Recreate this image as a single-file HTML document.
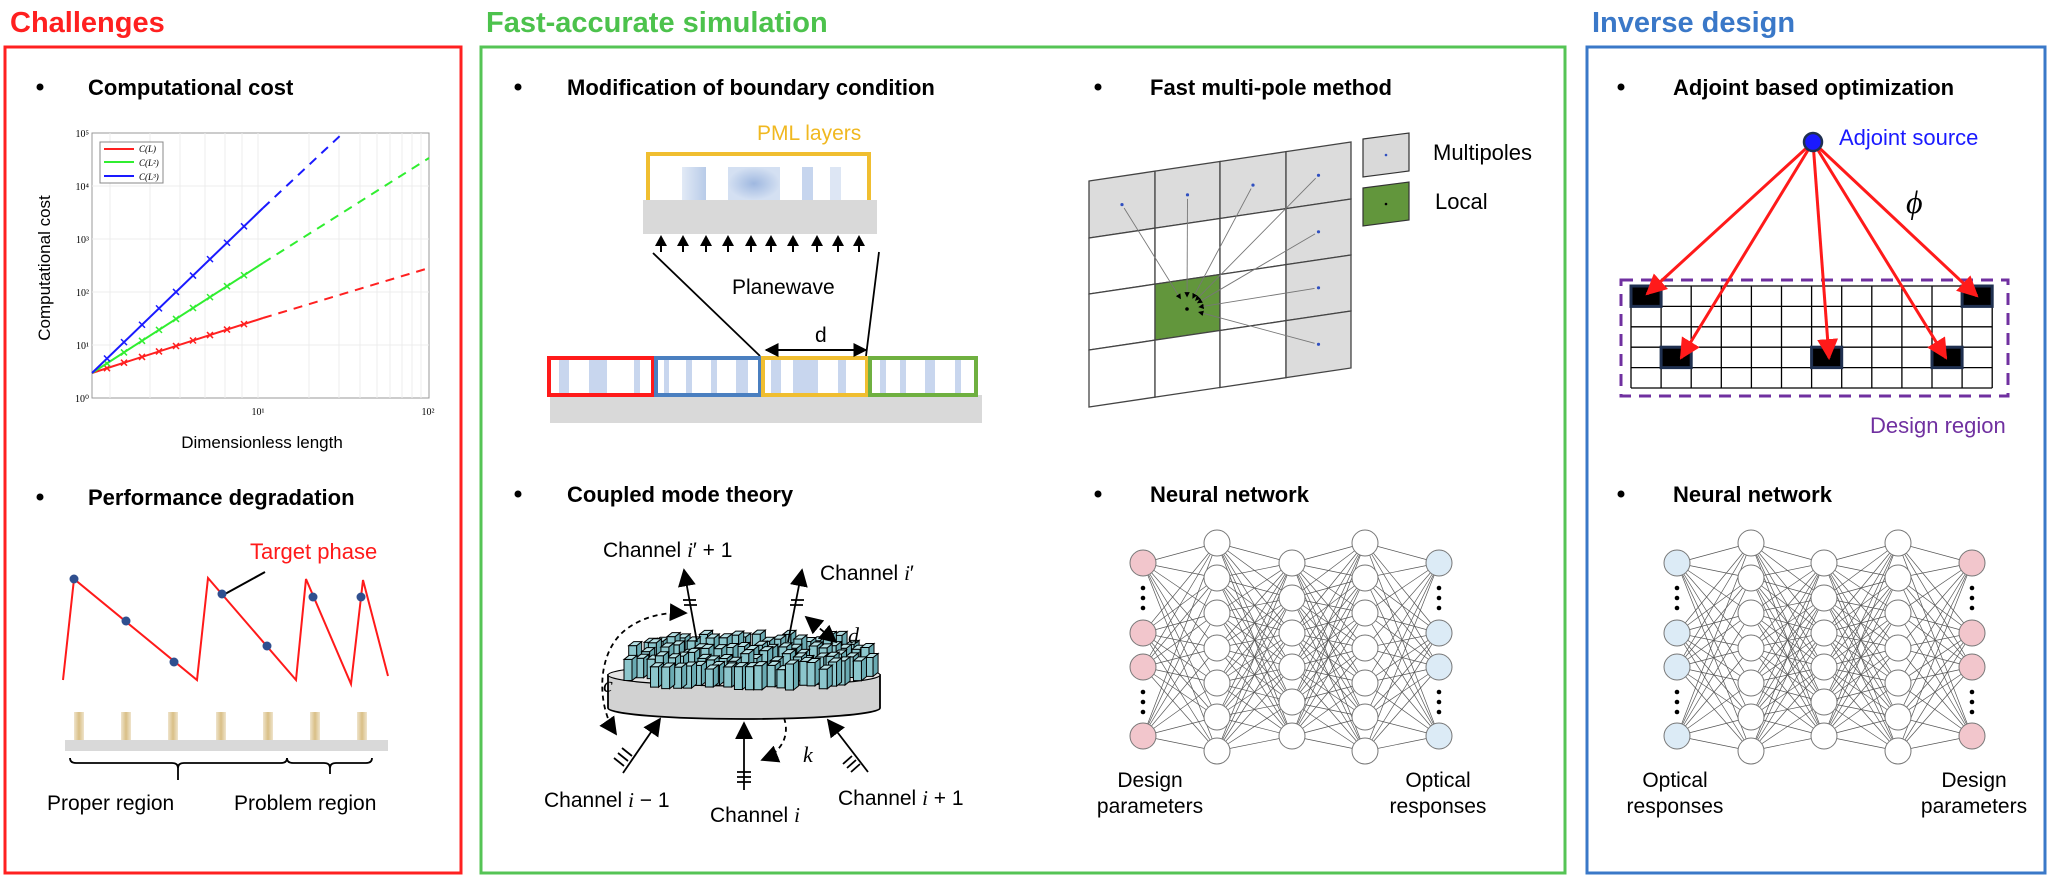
<!DOCTYPE html>
<html><head><meta charset="utf-8">
<style>
html,body{margin:0;padding:0;background:#fff;}
svg{display:block;font-family:"Liberation Sans",sans-serif;}
.b{font-weight:bold;font-size:22px;fill:#000;}
.t{font-size:21px;fill:#000;}
</style></head>
<body>
<svg id="s" width="2050" height="880" viewBox="0 0 2050 880" xmlns="http://www.w3.org/2000/svg">
<defs>
<linearGradient id="tan" x1="0" x2="1"><stop offset="0" stop-color="#efe4cc"/><stop offset="0.5" stop-color="#d9bf86"/><stop offset="1" stop-color="#efe4cc"/></linearGradient>
<radialGradient id="bl"><stop offset="0" stop-color="#9fb8e0"/><stop offset="1" stop-color="#d4e0f2"/></radialGradient>
<linearGradient id="bl2" x1="0" x2="1"><stop offset="0" stop-color="#e2eaf6"/><stop offset="1" stop-color="#b8cbe8"/></linearGradient>
<marker id="ra" viewBox="0 0 10 10" refX="9" refY="5" markerWidth="7" markerHeight="7" orient="auto-start-reverse" markerUnits="strokeWidth"><path d="M0,0L10,5L0,10z" fill="#ff1a1a"/></marker>
<marker id="ka" viewBox="0 0 10 10" refX="9" refY="5" markerWidth="10" markerHeight="10" orient="auto-start-reverse" markerUnits="strokeWidth"><path d="M0,0L10,5L0,10z" fill="#000"/></marker>
<marker id="kb" viewBox="0 0 10 10" refX="9" refY="5" markerWidth="7" markerHeight="7" orient="auto-start-reverse" markerUnits="strokeWidth"><path d="M0,0L10,5L0,10z" fill="#000"/></marker>
<marker id="ks" viewBox="0 0 10 10" refX="9" refY="5" markerWidth="6" markerHeight="6" orient="auto" markerUnits="strokeWidth"><path d="M0,0L10,5L0,10z" fill="#000"/></marker>
</defs>

<text x="10" y="32" font-size="29" font-weight="bold" fill="#ff2020">Challenges</text>
<text x="486" y="32" font-size="29" font-weight="bold" fill="#4cc24c">Fast-accurate simulation</text>
<text x="1592" y="32" font-size="29" font-weight="bold" fill="#3a78c8">Inverse design</text>

<rect x="5" y="47" width="456" height="826" fill="none" stroke="#ff2020" stroke-width="3"/>
<rect x="481" y="47" width="1084" height="826" fill="none" stroke="#55c455" stroke-width="3"/>
<rect x="1587" y="47" width="458" height="826" fill="none" stroke="#3a78c8" stroke-width="3"/>

<g class="b">
<circle cx="40" cy="87" r="3.5"/><text x="88" y="95">Computational cost</text>
<circle cx="40" cy="497" r="3.5"/><text x="88" y="505">Performance degradation</text>
<circle cx="518" cy="87" r="3.5"/><text x="567" y="95">Modification of boundary condition</text>
<circle cx="1098" cy="87" r="3.5"/><text x="1150" y="95">Fast multi-pole method</text>
<circle cx="518" cy="494" r="3.5"/><text x="567" y="502">Coupled mode theory</text>
<circle cx="1098" cy="494" r="3.5"/><text x="1150" y="502">Neural network</text>
<circle cx="1621" cy="87" r="3.5"/><text x="1673" y="95">Adjoint based optimization</text>
<circle cx="1621" cy="494" r="3.5"/><text x="1673" y="502">Neural network</text>
</g>

<g id="plot">
<rect x="92" y="133" width="337" height="265" fill="#fff" stroke="#999" stroke-width="1"/>
<g id="pgrid" stroke="#ececec" stroke-width="1"></g>
<line x1="92" y1="373" x2="263" y2="318" stroke="#ff2020" stroke-width="2"/>
<line x1="263" y1="318" x2="429" y2="268" stroke="#ff2020" stroke-width="2" stroke-dasharray="9 7"/>
<line x1="92" y1="373" x2="263" y2="263" stroke="#30ee30" stroke-width="2"/>
<line x1="263" y1="263" x2="429" y2="158" stroke="#30ee30" stroke-width="2" stroke-dasharray="9 7"/>
<line x1="92" y1="373" x2="263" y2="208" stroke="#1a1aff" stroke-width="2"/>
<line x1="263" y1="208" x2="343" y2="133" stroke="#1a1aff" stroke-width="2" stroke-dasharray="9 7"/>
<g id="pmark" stroke-width="1.5"></g>
<rect x="100" y="142" width="63" height="41" fill="#fff" stroke="#888"/>
<line x1="104" y1="149" x2="134" y2="149" stroke="#ff2020" stroke-width="2"/>
<line x1="104" y1="162" x2="134" y2="162" stroke="#30ee30" stroke-width="2"/>
<line x1="104" y1="176" x2="134" y2="176" stroke="#1a1aff" stroke-width="2"/>
<g font-family="Liberation Serif,serif" font-style="italic" font-size="9" fill="#000">
<text x="139" y="152">C(L)</text><text x="139" y="166">C(L²)</text><text x="139" y="180">C(L³)</text>
</g>
<g font-family="Liberation Serif,serif" font-size="10" fill="#000" text-anchor="end">
<text x="89" y="402">10⁰</text><text x="89" y="349">10¹</text><text x="89" y="296">10²</text>
<text x="89" y="243">10³</text><text x="89" y="190">10⁴</text><text x="89" y="137">10⁵</text>
</g>
<g font-family="Liberation Serif,serif" font-size="10" fill="#000" text-anchor="middle">
<text x="258" y="415">10¹</text><text x="428" y="415">10²</text>
</g>
<text transform="translate(50,268) rotate(-90)" text-anchor="middle" font-size="17">Computational cost</text>
<text x="262" y="448" text-anchor="middle" font-size="17">Dimensionless length</text>
</g>

<polyline points="63,680 74,579 197,680 208,578 296,680 306,579 351,684 363,580 388,676" fill="none" stroke="#ff1a1a" stroke-width="2"/>
<line x1="225" y1="594" x2="265" y2="572" stroke="#000" stroke-width="2"/>
<g fill="#2f4f8f">
<circle cx="74" cy="579" r="4.5"/><circle cx="126" cy="621" r="4.5"/><circle cx="174" cy="662" r="4.5"/>
<circle cx="222" cy="594" r="4.5"/><circle cx="267" cy="646" r="4.5"/><circle cx="313" cy="597" r="4.5"/><circle cx="361" cy="597" r="4.5"/>
</g>
<text x="250" y="559" font-size="22" fill="#ff1a1a">Target phase</text>
<g fill="url(#tan)">
<rect x="74" y="712" width="10" height="28"/><rect x="121" y="712" width="10" height="28"/><rect x="168" y="712" width="10" height="28"/>
<rect x="216" y="712" width="10" height="28"/><rect x="263" y="712" width="10" height="28"/><rect x="310" y="712" width="10" height="28"/><rect x="357" y="712" width="10" height="28"/>
</g>
<rect x="65" y="740" width="323" height="11" fill="#d9d9d9"/>
<path d="M70,758 Q70,763 76,763 L172,763 Q178,763 178,768 L178,780 M178,768 Q178,763 184,763 L281,763 Q287,763 287,758" fill="none" stroke="#000" stroke-width="1.8"/>
<path d="M287,758 Q287,763 293,763 L324,763 Q330,763 330,768 L330,774 M330,768 Q330,763 336,763 L366,763 Q372,763 372,758" fill="none" stroke="#000" stroke-width="1.8"/>
<text x="47" y="810" class="t">Proper region</text>
<text x="234" y="810" class="t">Problem region</text>

<rect x="682" y="167" width="24" height="33" fill="url(#bl2)"/>
<rect x="728" y="167" width="52" height="33" fill="url(#bl)"/>
<rect x="802" y="167" width="11" height="33" fill="#c6d5ee"/>
<rect x="830" y="167" width="11" height="33" fill="#dde6f4"/>
<path d="M648,200 L648,154 L869,154 L869,200" fill="none" stroke="#f0be30" stroke-width="4"/>
<rect x="643" y="200" width="234" height="34" fill="#d9d9d9"/>
<text x="757" y="140" font-size="21" fill="#f0b820">PML layers</text>
<g id="pw"></g>
<text x="732" y="294" class="t">Planewave</text>
<line x1="653" y1="253" x2="760" y2="356" stroke="#000" stroke-width="1.8"/>
<line x1="879" y1="252" x2="866" y2="356" stroke="#000" stroke-width="1.8"/>
<rect x="550" y="395" width="432" height="28" fill="#d9d9d9"/>
<g id="cells"></g>
<rect x="549" y="358" width="104" height="37" fill="none" stroke="#ff1a1a" stroke-width="4"/>
<rect x="656" y="358" width="104" height="37" fill="none" stroke="#4a7fc0" stroke-width="4"/>
<rect x="763" y="358" width="104" height="37" fill="none" stroke="#f0be30" stroke-width="4"/>
<rect x="870" y="358" width="106" height="37" fill="none" stroke="#6fb040" stroke-width="4"/>
<line x1="766" y1="350" x2="866" y2="350" stroke="#000" stroke-width="2" marker-start="url(#kb)" marker-end="url(#kb)"/>
<text x="815" y="342" class="t">d</text>

<g id="fmm"></g>
<path d="M1363,139 L1409,133 L1409,171 L1363,177 Z" fill="#d9d9d9" stroke="#333" stroke-width="1.2"/>
<circle cx="1386" cy="155" r="1.3" fill="#3050c0"/>
<path d="M1363,188 L1409,182 L1409,220 L1363,226 Z" fill="#62963c" stroke="#333" stroke-width="1.2"/>
<circle cx="1386" cy="204" r="1.3" fill="#000"/>
<text x="1433" y="160" font-size="22">Multipoles</text>
<text x="1435" y="209" font-size="22">Local</text>

<path d="M608,675 L608,708 A136,11 0 0 0 880,708 L880,675 Z" fill="#d2d2d2" stroke="#000" stroke-width="1.8"/>
<ellipse cx="744" cy="675" rx="136" ry="11" fill="#e4e4e4" stroke="#000" stroke-width="1.2"/>
<g id="pill"></g>
<g stroke="#000" stroke-width="1.8" fill="none">
<line x1="623" y1="773" x2="660" y2="719" marker-end="url(#ka)"/>
<line x1="744" y1="790" x2="744" y2="723" marker-end="url(#ka)"/>
<line x1="868" y1="772" x2="828" y2="720" marker-end="url(#ka)"/>
<line x1="697" y1="642" x2="684" y2="570" marker-end="url(#ka)"/>
<line x1="788" y1="642" x2="802" y2="570" marker-end="url(#ka)"/>
<path d="M616,734 C596,705 596,650 628,628 C645,616 665,612 686,613" stroke-dasharray="5 4" marker-start="url(#ka)" marker-end="url(#ka)"/>
<path d="M806,617 L836,642" stroke-dasharray="5 4" marker-start="url(#ka)" marker-end="url(#ka)"/>
<path d="M784,718 C790,735 782,752 762,760" stroke-dasharray="5 4" marker-end="url(#ka)"/>
<path d="M614,758 l10,8 M618,753 l10,8 M622,748 l10,8"/>
<path d="M737,772 h14 M737,777 h14 M737,782 h14"/>
<path d="M852,756 l-9,8 M856,760 l-9,8 M860,764 l-9,8"/>
<path d="M683,600 h13 M684,605 h13"/>
<path d="M791,600 h13 M790,605 h13"/>
</g>
<g font-family="Liberation Serif,serif" font-style="italic" font-size="22">
<text x="603" y="692">c</text><text x="848" y="643">d</text><text x="803" y="762">k</text>
</g>
<g class="t" font-size="22">
<text x="603" y="557">Channel <tspan font-family="Liberation Serif,serif" font-style="italic">i</tspan>′ + 1</text>
<text x="820" y="580">Channel <tspan font-family="Liberation Serif,serif" font-style="italic">i</tspan>′</text>
<text x="544" y="807">Channel <tspan font-family="Liberation Serif,serif" font-style="italic">i</tspan> − 1</text>
<text x="710" y="822">Channel <tspan font-family="Liberation Serif,serif" font-style="italic">i</tspan></text>
<text x="838" y="805">Channel <tspan font-family="Liberation Serif,serif" font-style="italic">i</tspan> + 1</text>
</g>

<g id="nn1"></g><g id="nn2"></g>
<g class="t" font-size="22" text-anchor="middle">
<text x="1150" y="787">Design</text><text x="1150" y="813">parameters</text>
<text x="1438" y="787">Optical</text><text x="1438" y="813">responses</text>
<text x="1675" y="787">Optical</text><text x="1675" y="813">responses</text>
<text x="1974" y="787">Design</text><text x="1974" y="813">parameters</text>
</g>

<g id="adj"></g>
<rect x="1621" y="280" width="387" height="116" fill="none" stroke="#7030a0" stroke-width="3" stroke-dasharray="12 8"/>
<g stroke="#ff1a1a" stroke-width="3" fill="none">
<line x1="1813" y1="142" x2="1647" y2="294" marker-end="url(#ra)"/>
<line x1="1813" y1="142" x2="1681" y2="358" marker-end="url(#ra)"/>
<line x1="1813" y1="142" x2="1829" y2="358" marker-end="url(#ra)"/>
<line x1="1813" y1="142" x2="1946" y2="358" marker-end="url(#ra)"/>
<line x1="1813" y1="142" x2="1977" y2="296" marker-end="url(#ra)"/>
</g>
<circle cx="1813" cy="142" r="9" fill="#1a1aff" stroke="#1f3050" stroke-width="2.5"/>
<text x="1839" y="145" font-size="22" fill="#1a1aff">Adjoint source</text>
<text x="1906" y="213" font-family="Liberation Serif,serif" font-style="italic" font-size="32">ϕ</text>
<text x="1870" y="433" font-size="22" fill="#7030a0">Design region</text>
</svg>
<script>
var NS="http://www.w3.org/2000/svg";
function el(p,t,a){var e=document.createElementNS(NS,t);for(var k in a)e.setAttribute(k,a[k]);document.getElementById(p).appendChild(e);return e;}
[345,292,239,186].forEach(function(y){el("pgrid","line",{x1:92,y1:y,x2:429,y2:y});});
[110,150,180,205,225,242,258,309,339,360,377,390,402,412,421].forEach(function(x){el("pgrid","line",{x1:x,y1:133,x2:x,y2:398});});
var mx=[107,124,142,159,176,193,210,227,244];
[[318,"#ff2020"],[263,"#30ee30"],[208,"#1a1aff"]].forEach(function(c){mx.forEach(function(x){var y=373+(c[0]-373)*(x-92)/171;
el("pmark","path",{d:"M"+(x-3)+","+(y-3)+"l6,6M"+(x+3)+","+(y-3)+"l-6,6",stroke:c[1]});});});
[661,683,706,728,751,771,793,817,838,859].forEach(function(x){el("pw","line",{x1:x,y1:252,x2:x,y2:243,stroke:"#000","stroke-width":2});el("pw","path",{d:"M"+(x-6)+",246L"+x+",235L"+(x+6)+",246z",fill:"#000"});});
[[549,[[10,10],[40,18],[85,6]]],[656,[[8,5],[30,6],[55,6],[80,12]]],[763,[[8,10],[30,25],[75,8]]],[870,[[10,6],[30,6],[55,10],[85,6]]]].forEach(function(g){g[1].forEach(function(c){el("cells","rect",{x:g[0]+c[0],y:360,width:c[1],height:34,fill:"#c8d6ee"});});});
var colx=[1089,1155,1220,1286,1351],rowy=[181,238,294,350,407],sl=-0.149;
function P(i,j){var x=colx[i];return [x,rowy[j]+sl*(x-1089)];}
function quad(i,j,f){var a=P(i,j),b=P(i+1,j),c=P(i+1,j+1),d=P(i,j+1);el("fmm","path",{d:"M"+a+"L"+b+"L"+c+"L"+d+"Z",fill:f,stroke:"#444","stroke-width":1.3});}
for(var i=0;i<4;i++)for(var j=0;j<4;j++){var f="#fff";if(j==0||i==3)f="#dcdcdc";if(i==1&&j==2)f="#62963c";quad(i,j,f);}
var gc=[1187,309];
var dots=[[0,0],[1,0],[2,0],[3,0],[3,1],[3,2],[3,3]];
dots.forEach(function(d){var a=P(d[0],d[1]),c=P(d[0]+1,d[1]+1);var cx=(a[0]+c[0])/2,cy=(a[1]+c[1])/2;
var dx=gc[0]-cx,dy=gc[1]-cy,L=Math.sqrt(dx*dx+dy*dy);var ex=gc[0]-dx/L*12,ey=gc[1]-dy/L*12;
el("fmm","line",{x1:cx+dx/L*4,y1:cy+dy/L*4,x2:ex,y2:ey,stroke:"#777","stroke-width":0.9,"marker-end":"url(#ks)"});
el("fmm","circle",{cx:cx,cy:cy,r:1.6,fill:"#3050c0"});});
el("fmm","circle",{cx:gc[0],cy:gc[1],r:1.8,fill:"#000"});
var seed=11;function rnd(){seed=(seed*9301+49297)%233280;return seed/233280;}
var pl=[];
for(var r=0;r<4;r++){for(var k=0;k<24;k++){var x=622+k*10.5+rnd()*5+(r%2?5:0);var yb=658+r*9+rnd()*5;
var ex=(x-744)/130; var lim=1-ex*ex; if(lim<0.05)continue; if(r==0&&Math.abs(x-744)>105)continue; if(r==3&&Math.abs(x-744)>95)continue;
pl.push([x,yb,18+rnd()*8]);}}
pl.sort(function(a,b){return a[1]-b[1];});
pl.forEach(function(p){var x=p[0],y=p[1],h=p[2],w=8,dx=5,dy=4;
el("pill","path",{d:"M"+x+","+y+"v"+(-h)+"h"+w+"v"+h+"z",fill:"#8cc6cc",stroke:"#000","stroke-width":1});
el("pill","path",{d:"M"+(x+w)+","+y+"v"+(-h)+"l"+dx+","+(-dy)+"v"+h+"z",fill:"#6aaab2",stroke:"#000","stroke-width":1});
el("pill","path",{d:"M"+x+","+(y-h)+"l"+dx+","+(-dy)+"h"+w+"l"+(-dx)+","+dy+"z",fill:"#b6e0e4",stroke:"#000","stroke-width":1});});
function nn(id,xs,c1,c5){var Y2=[543,578,613,648,683,717,751],Y1=[563,633,667,736],Y3=[563,598,633,667,702,736];
var L=[Y1,Y2,Y3,Y2,Y1];
for(var l=0;l<4;l++)L[l].forEach(function(a){L[l+1].forEach(function(b){el(id,"line",{x1:xs[l],y1:a,x2:xs[l+1],y2:b,stroke:"#555","stroke-width":0.7});});});
L.forEach(function(ys,l){ys.forEach(function(y){el(id,"circle",{cx:xs[l],cy:y,r:13,fill:l==0?c1:(l==4?c5:"#fff"),stroke:"#777","stroke-width":1});});});
[0,4].forEach(function(l){[588,598,608,692,702,712].forEach(function(y){el(id,"circle",{cx:xs[l],cy:y,r:2.3,fill:"#000"});});});}
nn("nn1",[1143,1217,1292,1365,1439],"#f2c6cc","#dcebf6");
nn("nn2",[1677,1751,1824,1898,1972],"#dcebf6","#f2c6cc");
var gx=1631,gy=286,cw=30.1,ch=20.4;
for(var i=0;i<=12;i++)el("adj","line",{x1:gx+i*cw,y1:gy,x2:gx+i*cw,y2:gy+5*ch,stroke:"#000","stroke-width":1.3});
for(var j=0;j<=5;j++)el("adj","line",{x1:gx,y1:gy+j*ch,x2:gx+12*cw,y2:gy+j*ch,stroke:"#000","stroke-width":1.3});
[[0,0],[11,0],[1,3],[6,3],[10,3]].forEach(function(c){el("adj","rect",{x:gx+c[0]*cw,y:gy+c[1]*ch,width:cw,height:ch,fill:"#000",stroke:"#1f3050","stroke-width":3});});
</script>
</body></html>
